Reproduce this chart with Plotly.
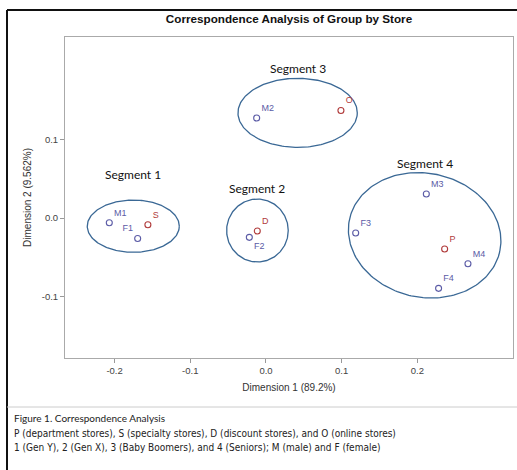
import numpy as np
import plotly.graph_objects as go

# Data
group_labels = ["M1", "F1", "M2", "F2", "M3", "F3", "M4", "F4"]
group_dim1 = [-0.207, -0.1695, -0.0123, -0.022, 0.2118, 0.1185, 0.2668, 0.228]
group_dim2 = [-0.006, -0.026, 0.1274, -0.0246, 0.0306, -0.0191, -0.0582, -0.0896]
group_textpos = ["top right", "top left", "top right", "bottom right",
                 "top right", "top right", "top right", "top right"]

store_labels = ["S", "D", "O", "P"]
store_dim1 = [-0.156, -0.0115, 0.099, 0.236]
store_dim2 = [-0.0085, -0.0166, 0.137, -0.0395]

segment_names = ["Segment 1", "Segment 2", "Segment 3", "Segment 4"]
seg_cx = [-0.1753, -0.0113, 0.0418, 0.2096]
seg_cy = [-0.0104, -0.0159, 0.134, -0.022]
seg_rx = [0.0608, 0.0407, 0.0788, 0.1015]
seg_ry = [0.0333, 0.0401, 0.044, 0.079]
seg_angle = [0, 0, 0, -12]
seg_label_y = [0.056, 0.038, 0.191, 0.069]

x_ticks = [-0.2, -0.1, 0.0, 0.1, 0.2]
x_tick_labels = ["-0.2", "-0.1", "0.0", "0.1", "0.2"]
y_ticks = [-0.1, 0.0, 0.1]
y_tick_labels = ["-0.1", "0.0", "0.1"]

BLUE = "#5b5ba6"
RED = "#b03a3a"
ELL = "#3a6895"
FONT = "Liberation Sans"
NARROW = "Liberation Sans Narrow, DejaVu Sans Condensed, Arial Narrow, Liberation Sans"

fig = go.Figure()

# ellipses
t = np.linspace(0, 2 * np.pi, 200)
for cx, cy, rx, ry, ang in zip(seg_cx, seg_cy, seg_rx, seg_ry, seg_angle):
    a = np.deg2rad(ang)
    px = rx * 757 * np.cos(t)
    py = ry * 785 * np.sin(t)
    qx = px * np.cos(a) - py * np.sin(a)
    qy = px * np.sin(a) + py * np.cos(a)
    fig.add_trace(go.Scatter(x=cx + qx / 757, y=cy + qy / 785, mode="lines",
                             line=dict(color=ELL, width=1.3), hoverinfo="skip",
                             showlegend=False))

fig.add_trace(go.Scatter(x=group_dim1, y=group_dim2, mode="markers+text",
                         text=group_labels, textposition=group_textpos,
                         textfont=dict(color=BLUE, size=9, family=FONT),
                         marker=dict(symbol="circle-open", size=6, color=BLUE,
                                     line=dict(width=1.1)),
                         showlegend=False))
fig.add_trace(go.Scatter(x=store_dim1, y=store_dim2, mode="markers+text",
                         text=store_labels, textposition="top right",
                         textfont=dict(color=RED, size=9, family=FONT),
                         marker=dict(symbol="circle-open", size=6, color=RED,
                                     line=dict(width=1.1)),
                         showlegend=False))

for name, cx, ly in zip(segment_names, seg_cx, seg_label_y):
    fig.add_annotation(x=cx, y=ly, text=name, showarrow=False,
                       font=dict(size=12, color="#111", family="Lato"))

fig.update_xaxes(range=[-0.2655, 0.3263], tickvals=x_ticks, ticktext=x_tick_labels,
                 showgrid=False, zeroline=False, ticks="outside", ticklen=4,
                 tickcolor="#999", showline=True, linecolor="#aaa", mirror=True,
                 tickfont=dict(size=9.5, color="#444", family=FONT),
                 title=dict(text="Dimension 1 (89.2%)", standoff=8,
                            font=dict(size=10, color="#333", family=FONT)))
fig.update_yaxes(range=[-0.1783, 0.2306], tickvals=y_ticks, ticktext=y_tick_labels,
                 showgrid=False, zeroline=False, ticks="outside", ticklen=4,
                 tickcolor="#999", showline=True, linecolor="#aaa", mirror=True,
                 tickfont=dict(size=9.5, color="#444", family=FONT),
                 title=dict(text="Dimension 2 (9.562%)", standoff=8,
                            font=dict(size=10, color="#333", family=FONT)))

fig.update_layout(
    width=517, height=470,
    margin=dict(l=65, r=4, t=37, b=112),
    paper_bgcolor="white", plot_bgcolor="white",
    title=dict(text="<b>Correspondence Analysis of Group by Store</b>",
               x=289 / 517, xanchor="center", y=1 - 19 / 470, yanchor="middle",
               font=dict(size=11.7, color="#111", family=FONT)),
)

# outer border and separator
fig.add_shape(type="line", xref="paper", yref="paper", x0=-58 / 448, x1=1.02,
              y0=1 + 27 / 321, y1=1 + 27 / 321, line=dict(color="#111", width=2))
fig.add_shape(type="line", xref="paper", yref="paper", x0=-58 / 448, x1=-58 / 448,
              y0=1 + 27 / 321, y1=-0.4, line=dict(color="#111", width=2))
fig.add_shape(type="line", xref="paper", yref="paper", x0=-58 / 448, x1=1.02,
              y0=-49 / 321, y1=-49 / 321, line=dict(color="#ccc", width=1))

captions = [
    ("Figure 1. Correspondence Analysis", 418, "Lato", 10),
    ("P (department stores), S (specialty stores), D (discount stores), and O (online stores)", 433, NARROW, 10),
    ("1 (Gen Y), 2 (Gen X), 3 (Baby Boomers), and 4 (Seniors); M (male) and F (female)", 447, NARROW, 10),
]
for txt, py, fam, sz in captions:
    fig.add_annotation(xref="paper", yref="paper", x=(12 - 65) / 448,
                       y=(358 - py) / 321, xanchor="left", yanchor="middle",
                       text=txt, showarrow=False,
                       font=dict(size=sz, color="#222", family=fam))

fig.write_html("out.html", config={"displayModeBar": False},
               post_script="document.body.style.margin='0px';")
